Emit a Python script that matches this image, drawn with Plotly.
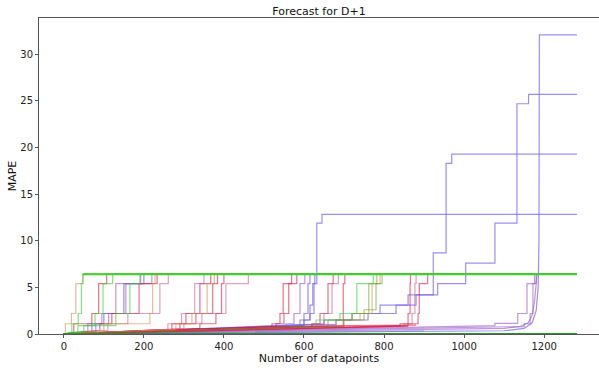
import plotly.graph_objects as go

END_X = 1282  # last datapoint index of every series

# Colours
BLUE = "rgba(123,104,238,0.75)"
PURPLE = "rgba(150,80,200,0.6)"
RED = "rgba(220,20,60,0.6)"
PINK = "rgba(205,80,130,0.55)"
GREEN = "rgba(50,205,50,0.6)"
TAN = "rgba(205,145,85,0.6)"
OLIVE = "rgba(115,160,40,0.6)"
LIME = "rgb(60,210,40)"

# Step series: first pair ends the slow ramp from (0, 0); each following pair is a jump (x, new level)
e1_x = [4, 4, 19, 30, 47];        e1_y = [0.1, 1.1, 2.2, 5.4, 6.42]
e2_x = [20, 20, 36, 44, 48];      e2_y = [0.2, 1.1, 2.2, 5.4, 6.42]
e3_x = [25, 25, 70, 87, 107];     e3_y = [0.2, 1.1, 2.2, 5.4, 6.42]
e4_x = [35, 35, 78, 98, 122];     e4_y = [0.2, 0.9, 2.2, 5.4, 6.42]
e5_x = [60, 60, 95, 130, 192];    e5_y = [0.3, 1.1, 2.2, 5.4, 6.42]
e6_x = [70, 70, 100, 150, 200];   e6_y = [0.3, 1.1, 2.2, 5.4, 6.42]
e7_x = [50, 50, 130, 165, 190];   e7_y = [0.3, 0.9, 2.2, 5.4, 6.42]
e8_x = [90, 90, 120, 188, 233];   e8_y = [0.4, 1.1, 2.2, 5.4, 6.42]
e9_x = [100, 100, 215, 222, 228]; e9_y = [0.4, 1.1, 2.2, 5.4, 6.42]
e10_x = [110, 110, 160, 240, 261]; e10_y = [0.4, 1.1, 2.2, 5.4, 6.42]
e11_x = [80, 80, 112, 155, 220];  e11_y = [0.3, 1.1, 2.2, 5.4, 6.42]

b1_x = [260, 260, 294, 327, 350]; b1_y = [0.5, 1.1, 2.2, 5.4, 6.42]
b2_x = [270, 270, 305, 340, 367]; b2_y = [0.5, 1.1, 2.2, 5.4, 6.42]
b3_x = [280, 280, 320, 358, 376]; b3_y = [0.5, 1.1, 2.2, 5.4, 6.42]
b4_x = [290, 290, 330, 372, 384]; b4_y = [0.55, 1.1, 2.2, 5.4, 6.42]
b5_x = [300, 300, 345, 405, 461]; b5_y = [0.55, 1.1, 2.2, 5.4, 6.42]
b6_x = [340, 340, 380, 394, 400]; b6_y = [0.6, 1.1, 2.2, 5.4, 6.42]

c1_x = [520, 520, 540, 548, 569]; c1_y = [0.8, 1.1, 2.2, 5.4, 6.42]
c2_x = [530, 530, 550, 562, 582]; c2_y = [0.8, 1.1, 2.2, 5.4, 6.42]
c3_x = [540, 555, 575, 590, 602]; c3_y = [0.8, 1.1, 2.2, 5.4, 6.42]
c4_x = [550, 590, 600, 610, 615]; c4_y = [0.9, 1.5, 2.2, 5.4, 6.42]
c5_x = [560, 600, 615, 622, 627]; c5_y = [0.9, 1.5, 3.1, 5.4, 6.42]
c6_x = [580, 620, 640, 660, 673]; c6_y = [0.8, 1.1, 2.2, 5.4, 6.42]
c7_x = [590, 620, 650, 670, 686]; c7_y = [0.8, 1.1, 2.2, 5.4, 6.42]
c8_x = [600, 698, 702];           c8_y = [0.85, 5.4, 6.42]
c9_x = [600, 630, 690, 732, 773]; c9_y = [0.8, 1.5, 2.2, 5.4, 6.42]
c10_x = [610, 660, 720, 762, 782]; c10_y = [0.8, 1.5, 2.2, 5.4, 6.42]
c11_x = [620, 680, 740, 770, 790]; c11_y = [0.8, 1.5, 2.2, 5.4, 6.42]
c12_x = [630, 700, 750, 780, 795]; c12_y = [0.8, 1.5, 2.6, 5.4, 6.42]

d1_x = [820, 840, 860, 865, 866]; d1_y = [0.85, 1.1, 2.2, 5.4, 6.42]
d2_x = [830, 850, 870, 877, 880]; d2_y = [0.85, 1.1, 2.2, 5.4, 6.42]
d3_x = [840, 860, 885, 888, 909]; d3_y = [0.9, 1.1, 2.2, 5.4, 6.42]

f1_x = [1077, 1077, 1134, 1157, 1176]; f1_y = [0.9, 1.15, 2.2, 5.4, 6.42]
f2_x = [1060, 1150, 1165, 1172, 1180]; f2_y = [0.8, 1.1, 2.2, 5.4, 6.42]

blue12_x = [560, 600, 615, 625, 632, 645]; blue12_y = [0.9, 1.5, 2.2, 5.4, 11.9, 12.84]
blue19_x = [600, 650, 720, 790, 860, 923, 955, 969]
blue19_y = [1.0, 1.5, 2.2, 3.1, 4.2, 8.7, 18.3, 19.3]
blue25_x = [600, 680, 760, 830, 880, 934, 1004, 1077, 1132, 1161]
blue25_y = [1.0, 1.5, 2.2, 3.1, 4.2, 5.4, 7.6, 11.9, 24.7, 25.7]

# Smooth (curve) series, read as points joined directly
blue32_x = [0, 1100, 1150, 1170, 1180, 1185, 1187, 1188, 1282]
blue32_y = [0, 0.35, 0.6, 1.2, 2.5, 5.0, 10.0, 32.1, 32.1]
purple_curve_x = [0, 1100, 1140, 1160, 1170, 1176, 1180, 1182, 1282]
purple_curve_y = [0, 0.6, 0.8, 1.2, 2.0, 3.5, 5.4, 6.42, 6.42]
# Slow-growth series in the low band (red / grey)
low_red1_x = [0, 700, 880]; low_red1_y = [0, 0.9, 0.95]
low_red2_x = [0, 650, 860]; low_red2_y = [0, 0.7, 0.85]
low_grey_x = [0, 600, 900]; low_grey_y = [0, 0.25, 0.35]
zero_x = [0, 1282]
zero_y = [0, 0]

STEP_SERIES = [
    (BLUE, blue12_x, blue12_y), (BLUE, blue19_x, blue19_y), (BLUE, blue25_x, blue25_y),
    (BLUE, e6_x, e6_y), (BLUE, c4_x, c4_y), (BLUE, c5_x, c5_y),
    (PURPLE, e5_x, e5_y), (PURPLE, e11_x, e11_y), (PURPLE, c3_x, c3_y),
    (PURPLE, f1_x, f1_y), (PURPLE, f2_x, f2_y),
    (RED, e3_x, e3_y), (RED, e8_x, e8_y), (RED, b2_x, b2_y), (RED, b4_x, b4_y), (RED, b6_x, b6_y),
    (RED, c1_x, c1_y), (RED, c2_x, c2_y), (RED, c6_x, c6_y), (RED, c8_x, c8_y),
    (RED, d1_x, d1_y), (RED, d3_x, d3_y),
    (PINK, e10_x, e10_y), (PINK, b1_x, b1_y), (PINK, b5_x, b5_y), (PINK, c7_x, c7_y), (PINK, d2_x, d2_y),
    (TAN, e1_x, e1_y), (TAN, e9_x, e9_y), (TAN, b3_x, b3_y), (TAN, c11_x, c11_y),
    (OLIVE, c10_x, c10_y), (OLIVE, c12_x, c12_y),
    (GREEN, e4_x, e4_y), (GREEN, e7_x, e7_y), (GREEN, c9_x, c9_y), (GREEN, e2_x, e2_y),
]

CURVE_SERIES = [
    ("rgba(130,130,130,0.5)", low_grey_x, low_grey_y),
    (RED, low_red1_x, low_red1_y), (RED, low_red2_x, low_red2_y),
    (PURPLE, purple_curve_x, purple_curve_y), (BLUE, blue32_x, blue32_y),
]


def step_path(xs, ys):
    px, py = [0, xs[0]], [0, ys[0]]
    prev = ys[0]
    for x, y in zip(xs[1:], ys[1:]):
        px += [x, x]
        py += [prev, y]
        prev = y
    px.append(END_X)
    py.append(prev)
    return px, py


fig = go.Figure()
for color, xs, ys in STEP_SERIES:
    px, py = step_path(xs, ys)
    fig.add_trace(go.Scatter(x=px, y=py, mode="lines", line=dict(color=color, width=1.2)))
for color, xs, ys in CURVE_SERIES:
    fig.add_trace(go.Scatter(x=xs, y=ys, mode="lines", line=dict(color=color, width=1.2)))

# bright final plateau of the last green series, drawn on top
fig.add_trace(go.Scatter(x=[e2_x[-1], END_X], y=[e2_y[-1], e2_y[-1]], mode="lines",
                         line=dict(color=LIME, width=2)))
fig.add_trace(go.Scatter(x=zero_x, y=zero_y, mode="lines", line=dict(color="rgb(40,150,40)", width=2)))

fig.update_layout(
    width=599, height=368,
    margin=dict(l=39, r=0, t=18, b=34),
    paper_bgcolor="white", plot_bgcolor="white",
    showlegend=False,
    font=dict(family="DejaVu Sans", size=10, color="#222"),
    title=dict(text="Forecast for D+1", x=0.5, xref="paper", y=0.97, yanchor="middle",
               font=dict(family="DejaVu Sans", size=11, color="#111")),
)
fig.update_xaxes(
    range=[-62, 1337], tickvals=[0, 200, 400, 600, 800, 1000, 1200],
    showgrid=False, zeroline=False, showline=True, linecolor="#555", linewidth=1, mirror=True,
    ticks="outside", ticklen=3, tickcolor="#555",
    title=dict(text="Number of datapoints", standoff=2, font=dict(family="DejaVu Sans", size=11, color="#111")),
)
fig.update_yaxes(
    range=[0, 33.9], tickvals=[0, 5, 10, 15, 20, 25, 30],
    showgrid=False, zeroline=False, showline=True, linecolor="#555", linewidth=1, mirror=True,
    ticks="outside", ticklen=3, tickcolor="#555",
    title=dict(text="MAPE", standoff=1, font=dict(family="DejaVu Sans", size=11, color="#111")),
)

fig.write_html("out.html", config={"displayModeBar": False},
               post_script="document.body.style.margin='0';")
